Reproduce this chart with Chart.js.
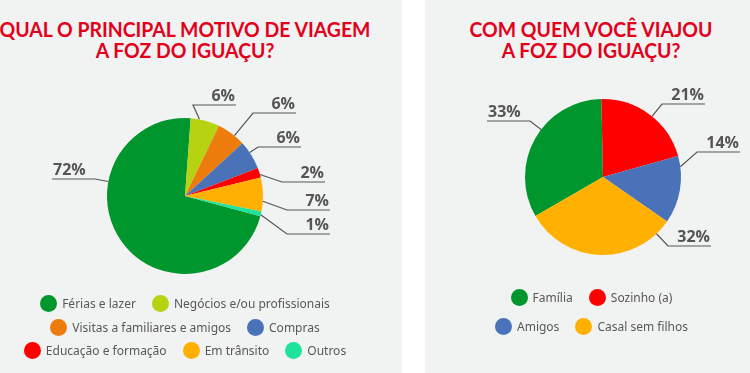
<!DOCTYPE html>
<html>
<head>
<meta charset="utf-8">
<script src="https://cdn.jsdelivr.net/npm/chart.js@4.4.1/dist/chart.umd.min.js"></script>
<style>
  body { margin: 0; width: 750px; height: 373px; background: #fff; position: relative; overflow: hidden; font-family: 'Noto Sans', sans-serif; }
  .panel { position: absolute; top: -8px; height: 389px; background: #f1f2f2; border-radius: 6px; }
  .title { position: absolute; top: 18px; width: 420px; text-align: center; color: #e2001a; font-family: Lato, sans-serif; font-weight: bold; font-size: 21px; line-height: 21px; white-space: nowrap; transform: scaleX(0.925); transform-origin: 50% 0; }
  canvas { position: absolute; top: 0; }
  .legend { position: absolute; display: flex; flex-wrap: wrap; justify-content: center; color: #585858; font-size: 12px; }
  .legend .item { display: inline-flex; align-items: center; margin: 0 8px; }
  .legend .dot { width: 17px; height: 17px; border-radius: 50%; margin-right: 5px; }
</style>
</head>
<body>
<div class="panel" style="left:-10px; width:412px;"></div>
<div class="panel" style="left:425px; width:335px;"></div>

<div class="title" style="left:-25px;">QUAL O PRINCIPAL MOTIVO DE VIAGEM<br>A FOZ DO IGUAÇU?</div>
<div class="title" style="left:381px;">COM QUEM VOCÊ VIAJOU<br>A FOZ DO IGUAÇU?</div>

<canvas id="motivo" width="402" height="373" style="left:0;"></canvas>
<canvas id="companhia" width="325" height="373" style="left:425px;"></canvas>

<div class="legend" id="motivoLegend" style="left:0; width:370px; top:292px; line-height:23.5px;"></div>
<div class="legend" id="companhiaLegend" style="left:484px; width:215px; top:283px; line-height:29px;"></div>

<script>
// Qual o principal motivo de viagem
const motivoLabels = ['Férias e lazer', 'Negócios e/ou profissionais', 'Visitas a familiares e amigos', 'Compras', 'Educação e formação', 'Em trânsito', 'Outros'];
const motivoValues = [72, 6, 6, 6, 2, 7, 1];
const motivoColors = ['#00962e', '#b6d311', '#ec7c0c', '#4a72b9', '#ff0000', '#ffb000', '#1fe39a'];

// Com quem você viajou
const companhiaLabels = ['Família', 'Sozinho (a)', 'Amigos', 'Casal sem filhos'];
const companhiaValues = [33, 21, 14, 32];
const companhiaColors = ['#00962e', '#ff0000', '#4a72b9', '#ffb000'];

// percent labels with elbow leader lines
const leaderLabels = {
    id: 'leaderLabels',
    afterDatasetsDraw(chart, args, opts) {
        const ctx = chart.ctx;
        const meta = chart.getDatasetMeta(0);
        const values = chart.data.datasets[0].data;
        const TWO_PI = Math.PI * 2;
        ctx.save();
        ctx.strokeStyle = opts.color;
        ctx.fillStyle = opts.color;
        ctx.lineWidth = 1.2;
        ctx.font = opts.font;
        ctx.textBaseline = 'alphabetic';
        meta.data.forEach((arc, i) => {
            const { x, y, startAngle, endAngle, outerRadius } = arc.getProps(['x', 'y', 'startAngle', 'endAngle', 'outerRadius'], true);
            const [dx, dy] = opts.elbows[i];
            const margin = Math.min((endAngle - startAngle) * 0.3, 8 * Math.PI / 180);
            const lo = startAngle + margin, hi = endAngle - margin;
            let a = Math.atan2(dy, dx);
            while (a < startAngle) a += TWO_PI;
            while (a >= startAngle + TWO_PI) a -= TWO_PI;
            if (a < lo) a = lo;
            else if (a > hi) a = (a - hi) < (lo + TWO_PI - a) ? hi : lo;
            const sx = x + outerRadius * Math.cos(a);
            const sy = y + outerRadius * Math.sin(a);
            const ex = x + dx, ey = y + dy;
            const dir = dx < 0 ? -1 : 1;
            const hx = ex + dir * opts.arm;
            ctx.beginPath();
            ctx.moveTo(sx, sy);
            ctx.lineTo(ex, ey);
            ctx.lineTo(hx, ey);
            ctx.stroke();
            ctx.textAlign = dir < 0 ? 'left' : 'right';
            ctx.fillText(values[i] + '%', hx - dir * 1, ey - 4);
        });
        ctx.restore();
    }
};

const makePie = (id, labels, values, colors, rotation, padding, elbows) => new Chart(document.getElementById(id), {
    type: 'pie',
    data: {
        labels: labels,
        datasets: [{ data: values, backgroundColor: colors, borderWidth: 0 }]
    },
    options: {
        responsive: false,
        animation: false,
        rotation: rotation,
        radius: 78,
        layout: { padding: padding },
        plugins: {
            legend: { display: false },
            tooltip: { enabled: false },
            leaderLabels: { elbows: elbows, arm: 43, color: '#555', font: 'bold 16px "Open Sans", sans-serif' }
        }
    },
    plugins: [leaderLabels]
});

makePie('motivo', motivoLabels, motivoValues, motivoColors, 105,
    { left: 0, right: 32, top: 19, bottom: 0 },
    [[-90, -17], [8, -91], [68, -83], [73, -49], [97, -14], [102, 14], [102, 38]]);

makePie('companhia', companhiaLabels, companhiaValues, companhiaColors, 240,
    { left: 31, right: 0, top: 0, bottom: 19 },
    [[-73, -56], [59, -73], [94, -25], [65, 69]]);

// legends
const buildLegend = (id, labels, colors) => {
    const box = document.getElementById(id);
    labels.forEach((label, i) => {
        const item = document.createElement('span');
        item.className = 'item';
        item.innerHTML = `<span class="dot" style="background:${colors[i]}"></span>${label}`;
        box.appendChild(item);
    });
};
buildLegend('motivoLegend', motivoLabels, motivoColors);
buildLegend('companhiaLegend', companhiaLabels, companhiaColors);
</script>
</body>
</html>
